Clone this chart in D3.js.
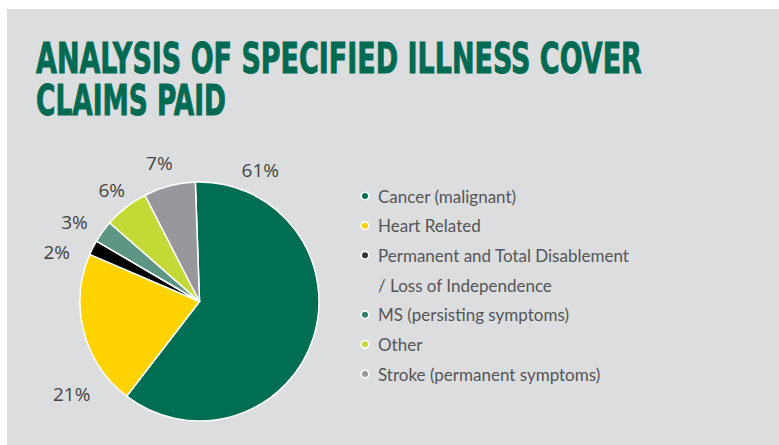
<!DOCTYPE html>
<html>
<head>
<meta charset="utf-8">
<script src="https://cdn.jsdelivr.net/npm/d3@7"></script>
<style>
  body { margin: 0; background: #fff; }
  svg { display: block; }
</style>
</head>
<body>
<div id="chart"></div>
<script>
const width = 779;
const height = 445;

// data
const categories = [
  "Cancer (malignant)",
  "Heart Related",
  "Permanent and Total Disablement",
  "MS (persisting symptoms)",
  "Other",
  "Stroke (permanent symptoms)",
];
const values = [61, 21, 2, 3, 6, 7];
const pctLabels = ["61%", "21%", "2%", "3%", "6%", "7%"];
const colors = ["#006e52", "#ffd200", "#000000", "#5d9684", "#c4d936", "#98979d"];
const legendDotColors = ["#006e52", "#ffd200", "#333333", "#2f7f6a", "#c4d936", "#98979d"];
const titleLines = ["ANALYSIS OF SPECIFIED ILLNESS COVER", "CLAIMS PAID"];

// layout (label placement around the pie, degrees clockwise from 12 o'clock)
const labelAngle = [24.8, -126, -71, -57.7, -38.2, -16.2];
const labelRadius = [145, 158, 151, 148, 142, 144];

const svg = d3
  .select("#chart")
  .append("svg")
  .attr("width", width)
  .attr("height", height);

svg.append("rect")
  .attr("x", 7)
  .attr("y", 9)
  .attr("width", width - 7)
  .attr("height", height - 9)
  .attr("fill", "#dcdddf");

// title, squeezed horizontally to the reference widths
const titleWidths = [606, 190];
const titleBase = [73, 115];
titleLines.forEach((line, i) => {
  const t = svg.append("text")
    .attr("fill", "#006b52")
    .attr("stroke", "#006b52")
    .attr("stroke-width", 0.9)
    .style("font-family", "'Liberation Sans Narrow', 'DejaVu Sans Condensed', sans-serif")
    .style("font-weight", "bold")
    .style("font-size", "43px")
    .text(line);
  const w = t.node().getComputedTextLength();
  t.attr("transform", `translate(36,${titleBase[i]}) scale(${titleWidths[i] / w},1)`);
});

// pie
const cx = 199.5, cy = 301.5, r = 119.5;
const start = (-2 * Math.PI) / 180;
const pie = d3.pie().sort(null).startAngle(start).endAngle(start + 2 * Math.PI);
const arc = d3.arc().innerRadius(0).outerRadius(r);
const arcs = pie(values);

const g = svg.append("g").attr("transform", `translate(${cx},${cy})`);
g.selectAll("path")
  .data(arcs)
  .join("path")
  .attr("d", arc)
  .attr("fill", (d, i) => colors[i])
  .attr("stroke", "#fff")
  .attr("stroke-width", 1.5)
  .attr("stroke-linejoin", "round");

g.selectAll("text.pct")
  .data(arcs)
  .join("text")
  .attr("class", "pct")
  .attr("x", (d, i) => labelRadius[i] * Math.sin((labelAngle[i] * Math.PI) / 180))
  .attr("y", (d, i) => -labelRadius[i] * Math.cos((labelAngle[i] * Math.PI) / 180))
  .attr("text-anchor", "middle")
  .attr("dominant-baseline", "central")
  .attr("fill", "#434343")
  .style("font-family", "'Open Sans', sans-serif")
  .style("font-size", "19px")
  .text((d, i) => pctLabels[i]);

// legend
const rowY = d3.scaleLinear().domain([0, 6]).range([196, 374]);
const rows = [0, 1, 2, 4, 5, 6];
const legend = svg.append("g");
const items = legend.selectAll("g")
  .data(categories)
  .join("g")
  .attr("transform", (d, i) => `translate(365,${rowY(rows[i])})`);
items.append("circle")
  .attr("r", 3.8)
  .attr("fill", (d, i) => legendDotColors[i])
  .attr("stroke", "#fff")
  .attr("stroke-width", 1.6);
items.append("text")
  .attr("x", 13)
  .attr("dominant-baseline", "central")
  .attr("fill", "#555")
  .style("font-family", "Lato, sans-serif")
  .style("font-size", "17px")
  .text((d) => d);
legend.append("text")
  .attr("x", 378)
  .attr("y", rowY(3))
  .attr("dominant-baseline", "central")
  .attr("fill", "#555")
  .style("font-family", "Lato, sans-serif")
  .style("font-size", "17px")
  .text("/ Loss of Independence");
</script>
</body>
</html>
